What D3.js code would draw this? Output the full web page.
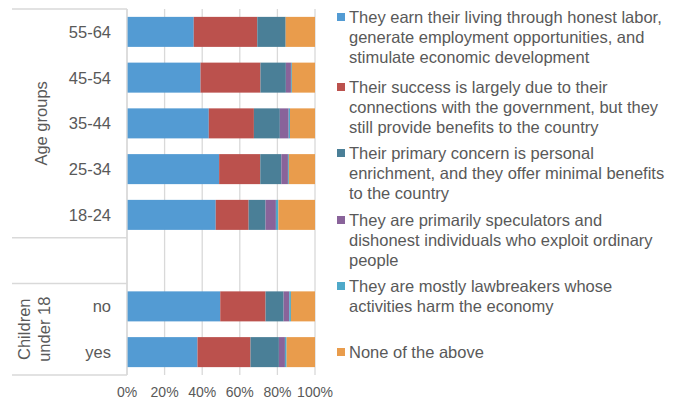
<!DOCTYPE html>
<html>
<head>
<meta charset="utf-8">
<script src="https://cdn.jsdelivr.net/npm/d3@7"></script>
<style>
  html, body { margin: 0; padding: 0; background: #fff; }
  svg { display: block; font-family: "Liberation Sans", Arial, sans-serif; }
</style>
</head>
<body>
<svg id="chart" width="684" height="401"></svg>
<script>
// Row categories, top to bottom ("" is the spacer row between the two groups)
const categories = ["55-64", "45-54", "35-44", "25-34", "18-24", "", "no", "yes"];

// Share of answers per row (%), one array per answer
const honestLabor   = [35.5, 39.1, 43.5, 49.0, 47.2, 0, 49.6, 37.5];
const govConnection = [33.8, 31.9, 24.0, 21.9, 17.5, 0, 24.1, 28.2];
const enrichment    = [15.1, 13.5, 13.8, 11.2,  9.0, 0,  9.6, 15.1];
const speculators   = [ 0.0,  2.7,  4.7,  3.5,  5.5, 0,  3.0,  3.2];
const lawbreakers   = [ 0.0,  0.5,  0.7,  0.5,  1.3, 0,  0.9,  0.9];
const noneAbove     = [15.6, 12.3, 13.3, 13.9, 19.5, 0, 12.8, 15.1];

const seriesNames = [
  ["They earn their living through honest labor,", "generate employment opportunities, and", "stimulate economic development"],
  ["Their success is largely due to their", "connections with the government, but they", "still provide benefits to the country"],
  ["Their primary concern is personal", "enrichment, and they offer minimal benefits", "to the country"],
  ["They are primarily speculators and", "dishonest individuals who exploit ordinary", "people"],
  ["They are mostly lawbreakers whose", "activities harm the economy"],
  ["None of the above"]
];
const seriesColors = ["#539bd3", "#bb514d", "#4a7f97", "#89639a", "#4fa9c9", "#e99c4c"];
const tickValues = [0, 20, 40, 60, 80, 100];

const groups = [
  { lines: ["Age groups"], from: "55-64", to: "18-24" },
  { lines: ["Children", "under 18"], from: "no", to: "yes" }
];

const seriesValues = [honestLabor, govConnection, enrichment, speculators, lawbreakers, noneAbove];
const rows = categories.map((c, i) => {
  const r = { cat: c };
  seriesValues.forEach((s, k) => { r["s" + k] = s[i]; });
  return r;
});
const keys = seriesValues.map((_, k) => "s" + k);

const svg = d3.select("#chart");
const textColor = "#595959";
const gridColor = "#d9d9d9";

const x = d3.scaleLinear().domain([0, 100]).range([127, 315]);
const y = d3.scaleBand().domain(categories.map((c, i) => i))
  .range([9, 375]).paddingInner(0.344).paddingOuter(0.172);

// vertical gridlines
svg.append("g").selectAll("line").data(tickValues).join("line")
  .attr("x1", d => x(d)).attr("x2", d => x(d))
  .attr("y1", 9).attr("y2", 375)
  .attr("stroke", gridColor).attr("stroke-width", 1.3);

// stacked bars
const stacked = d3.stack().keys(keys)(rows);
svg.append("g").selectAll("g").data(stacked).join("g")
  .attr("fill", (d, k) => seriesColors[k])
  .selectAll("rect").data(d => d.map((v, i) => ({ v, i })).filter(o => rows[o.i].cat !== ""))
  .join("rect")
  .attr("x", o => x(o.v[0]))
  .attr("width", o => Math.max(0, x(o.v[1]) - x(o.v[0])))
  .attr("y", o => y(o.i))
  .attr("height", y.bandwidth());

// x tick labels
svg.append("g").selectAll("text").data(tickValues).join("text")
  .attr("x", d => x(d)).attr("y", 392)
  .attr("text-anchor", "middle").attr("dominant-baseline", "central")
  .attr("font-size", 14).attr("fill", textColor)
  .text(d => d + "%");

// category axis: vertical line and group separators
const axisG = svg.append("g");
axisG.append("line").attr("x1", 127).attr("x2", 127).attr("y1", 9).attr("y2", 375)
  .attr("stroke", gridColor).attr("stroke-width", 1.3);
const step = y.step();
const sepY = [9, 9 + 5 * step, 9 + 6 * step, 375];
axisG.selectAll("line.sep").data(sepY).join("line").attr("class", "sep")
  .attr("x1", 12).attr("x2", 127).attr("y1", d => d).attr("y2", d => d)
  .attr("stroke", gridColor).attr("stroke-width", 1.3);

// category labels
axisG.selectAll("text.cat").data(categories).join("text").attr("class", "cat")
  .attr("x", 111).attr("y", (d, i) => y(i) + y.bandwidth() / 2)
  .attr("text-anchor", "end").attr("dominant-baseline", "central")
  .attr("font-size", 16.5).attr("fill", textColor)
  .text(d => d);

// group labels (rotated)
groups.forEach(g => {
  const i0 = categories.indexOf(g.from), i1 = categories.indexOf(g.to);
  const yc = (y(i0) - y.step() * y.paddingInner() / 2 + y(i1) + y.bandwidth() + y.step() * y.paddingInner() / 2) / 2;
  const n = g.lines.length;
  const xc = n === 1 ? 41 : 34;
  const t = axisG.append("text")
    .attr("transform", `translate(${xc},${yc}) rotate(-90)`)
    .attr("text-anchor", "middle")
    .attr("font-size", 16.5).attr("fill", textColor);
  g.lines.forEach((ln, j) => {
    t.append("tspan").attr("x", 0)
      .attr("dy", j === 0 ? (-(n - 1) * 20 / 2 + 5.5) : 20)
      .text(ln);
  });
});

// legend
const legendTop = [17, 87, 153, 220, 286, 352];
const legend = svg.append("g");
seriesNames.forEach((lines, k) => {
  const yy = legendTop[k];
  legend.append("rect").attr("x", 337).attr("y", yy - 4).attr("width", 8).attr("height", 8)
    .attr("fill", seriesColors[k]);
  lines.forEach((ln, j) => {
    legend.append("text").attr("x", 349).attr("y", yy + j * 20)
      .attr("dominant-baseline", "central")
      .attr("font-size", 16.5).attr("fill", textColor)
      .text(ln);
  });
});
</script>
</body>
</html>
